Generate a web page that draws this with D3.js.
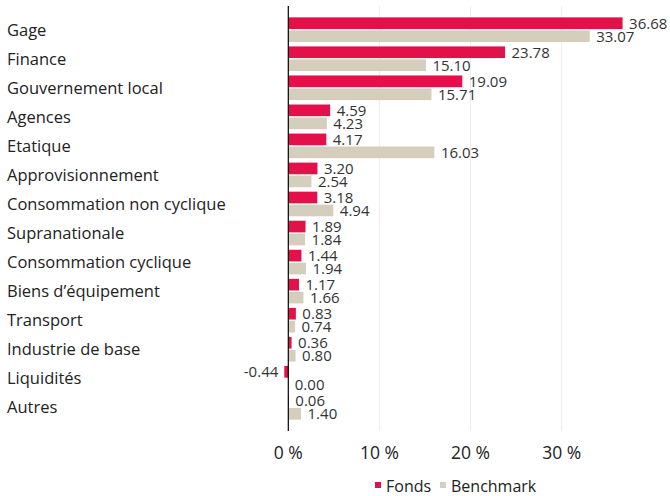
<!DOCTYPE html>
<html>
<head>
<meta charset="utf-8">
<script src="https://cdn.jsdelivr.net/npm/d3@7"></script>
<style>
  body { margin: 0; background: #fff; }
  text { font-family: "Open Sans", "Noto Sans", sans-serif; }
</style>
</head>
<body>
<svg id="chart" width="670" height="496"></svg>
<script>
const categories = ["Gage", "Finance", "Gouvernement local", "Agences", "Etatique", "Approvisionnement",
    "Consommation non cyclique", "Supranationale", "Consommation cyclique", "Biens d’équipement",
    "Transport", "Industrie de base", "Liquidités", "Autres"];
const fonds = [36.68, 23.78, 19.09, 4.59, 4.17, 3.20, 3.18, 1.89, 1.44, 1.17, 0.83, 0.36, -0.44, 0.06];
const benchmark = [33.07, 15.10, 15.71, 4.23, 16.03, 2.54, 4.94, 1.84, 1.94, 1.66, 0.74, 0.80, 0.00, 1.40];
const seriesNames = ["Fonds", "Benchmark"];
const ticks = [0, 10, 20, 30];

const colors = { Fonds: "#e3104a", Benchmark: "#d6cebd" };

const svg = d3.select("#chart");
const plotTop = 6, plotBottom = 431;

const x = d3.scaleLinear().domain([0, 30]).range([288.3, 561.7]);

const y = d3.scaleBand()
    .domain(categories)
    .range([plotTop, plotBottom])
    .paddingInner(0)
    .paddingOuter(0.315);

const ySub = d3.scaleBand()
    .domain(seriesNames)
    .range([0, y.bandwidth()])
    .paddingInner(0.1)
    .paddingOuter(0.17);

const rows = categories.map((c, i) => ({ cat: c, Fonds: fonds[i], Benchmark: benchmark[i] }));
const fmt = v => d3.format(".2f")(v).replace("−", "-");

// grid lines
svg.append("g").selectAll("line")
    .data(ticks.filter(t => t !== 0))
    .enter().append("line")
    .attr("x1", d => x(d)).attr("x2", d => x(d))
    .attr("y1", plotTop).attr("y2", plotBottom)
    .attr("stroke", "#ececec")
    .attr("stroke-width", 1);

// bars
const groups = svg.append("g").selectAll("g")
    .data(rows)
    .enter().append("g")
    .attr("transform", d => `translate(0,${y(d.cat)})`);

groups.selectAll("rect")
    .data(d => seriesNames.map(s => ({ s, v: d[s] })))
    .enter().append("rect")
    .attr("x", d => x(Math.min(0, d.v)))
    .attr("y", d => ySub(d.s))
    .attr("width", d => Math.abs(x(d.v) - x(0)))
    .attr("height", ySub.bandwidth())
    .attr("fill", d => colors[d.s]);

groups.selectAll("text")
    .data(d => seriesNames.map(s => ({ s, v: d[s] })))
    .enter().append("text")
    .attr("x", d => d.v < 0 ? x(d.v) - 6 : x(d.v) + 6.5)
    .attr("y", d => ySub(d.s) + ySub.bandwidth() / 2)
    .attr("dy", "0.36em")
    .attr("text-anchor", d => d.v < 0 ? "end" : "start")
    .attr("font-size", 15)
    .attr("fill", "#333")
    .text(d => fmt(d.v));

// category labels
svg.append("g").selectAll("text")
    .data(categories)
    .enter().append("text")
    .attr("x", 7)
    .attr("y", d => y(d) + y.bandwidth() / 2)
    .attr("dy", "0.36em")
    .attr("font-size", 16.5)
    .attr("fill", "#222")
    .text(d => d);

// zero axis line
svg.append("line")
    .attr("x1", x(0)).attr("x2", x(0))
    .attr("y1", plotTop).attr("y2", plotBottom)
    .attr("stroke", "#000")
    .attr("stroke-width", 1.2);

// x tick labels
svg.append("g").selectAll("text")
    .data(ticks)
    .enter().append("text")
    .attr("x", d => x(d))
    .attr("y", 453)
    .attr("dy", "0.36em")
    .attr("text-anchor", "middle")
    .attr("font-size", 17.5)
    .attr("fill", "#222")
    .text(d => `${d} %`);

// legend
const legend = svg.append("g").attr("transform", "translate(375,486)");
const legendPos = [0, 65];
seriesNames.forEach((s, i) => {
    legend.append("rect")
        .attr("x", legendPos[i])
        .attr("y", -4)
        .attr("width", 6)
        .attr("height", 6)
        .attr("fill", colors[s]);
    legend.append("text")
        .attr("x", legendPos[i] + 11)
        .attr("y", 0)
        .attr("dy", "0.36em")
        .attr("font-size", 16)
        .attr("fill", "#222")
        .text(s);
});
</script>
</body>
</html>
